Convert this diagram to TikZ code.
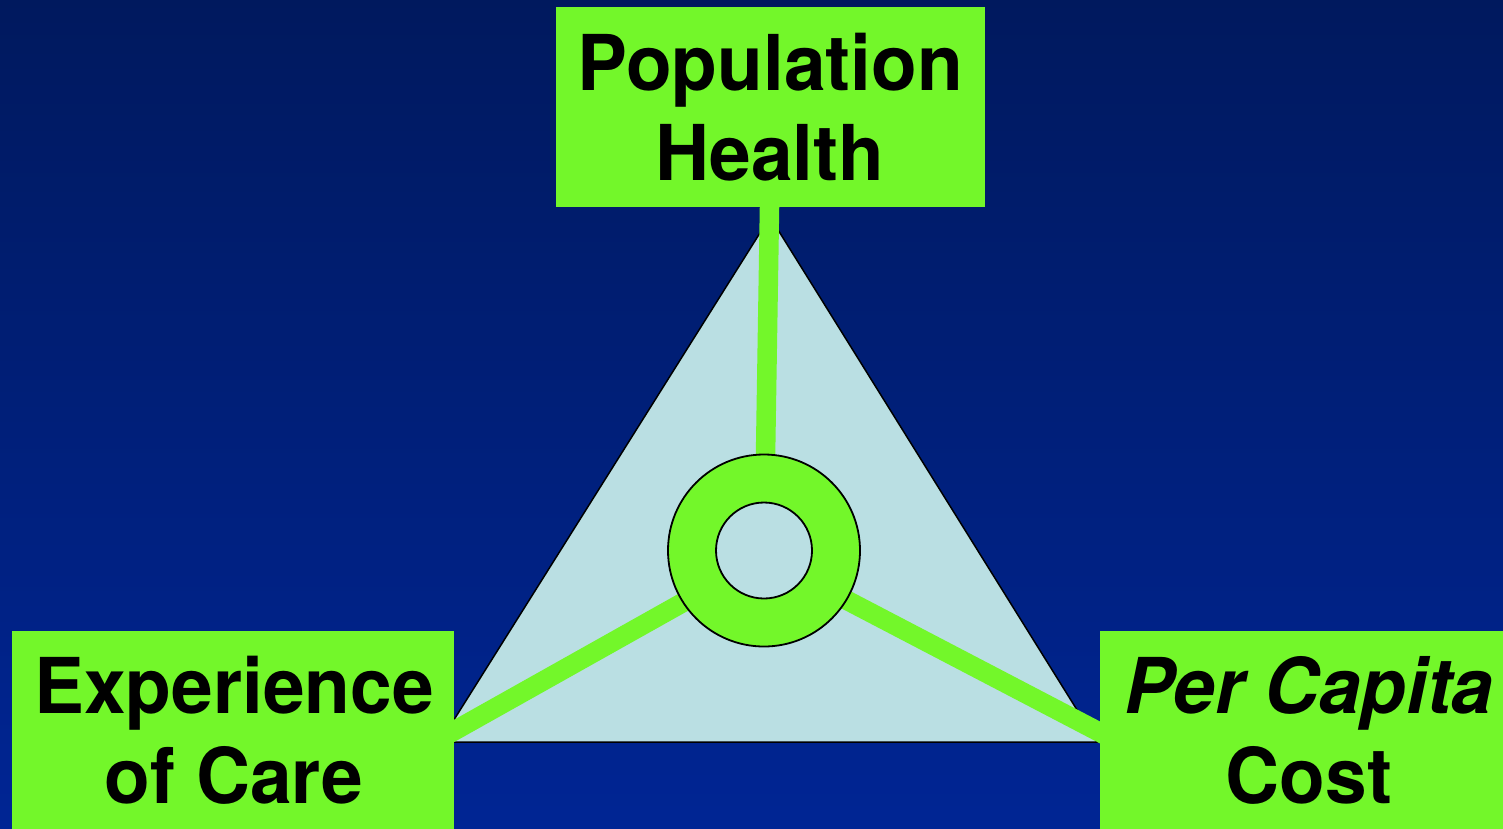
\documentclass[tikz,border=0pt]{standalone}
\usepackage{fontspec}
\setmainfont{TeX Gyre Heros}[FakeStretch=0.972]
\definecolor{bgtop}{RGB}{0,25,94}
\definecolor{bgbot}{RGB}{0,37,148}
\definecolor{lime}{RGB}{115,247,42}
\definecolor{tri}{RGB}{186,223,227}
\pgfdeclarelayer{bg}
\pgfsetlayers{bg,main}
\tikzset{
  goalbox/.style={rectangle, fill=lime, draw=none, inner sep=0pt},
  goaltext/.style={align=center, inner sep=0pt, text=black,
    font=\fontsize{77}{90}\selectfont\bfseries},
  spoke/.style={draw=lime, line width=19.5pt, line cap=butt},
}
\begin{document}
\begin{tikzpicture}[x=1pt,y=-1pt]
\useasboundingbox (0,0) rectangle (1503,828);
\clip (0,0) rectangle (1503,828);
\begin{pgfonlayer}{bg}
  \shade[top color=bgtop, bottom color=bgbot] (0,0) rectangle (1503,828);
  \draw[fill=tri, line width=1.5pt, line join=miter] (770,217) -- (440,742) -- (1097,742) -- cycle;
\end{pgfonlayer}
% hub ring
\node[circle, fill=lime, draw=black, line width=1.8pt, minimum size=192pt, inner sep=0pt] (ring) at (764,550.5) {};
\node[circle, fill=tri, draw=black, line width=1.8pt, minimum size=96pt, inner sep=0pt] (hole) at (ring.center) {};
% boxes
\node[goalbox, minimum width=429pt, minimum height=200pt] (top) at (770.5,107) {};
\node[goalbox, minimum width=442pt, minimum height=209pt] (left) at (233,735.5) {};
\node[goalbox, minimum width=420pt, minimum height=209pt] (right) at (1310,735.5) {};
\node[goaltext] (toptext) at (770,107.3) {Population\\Health};
\node[goaltext] (lefttext) at (234,730.5) {Experience\\of Care};
\node[goaltext] (righttext) at (1309,730.3) {\textit{Per Capita}\\Cost};
\coordinate (lend) at (440,738.8);
\coordinate (rend) at (1112,738.7);
\begin{pgfonlayer}{bg}
  \draw[spoke, shorten >=-8pt] (ring.center) -- ([xshift=-1pt]top.south);
  \draw[spoke] ([yshift=-6.5pt]ring.center) -- (lend);
  \draw[spoke] ([yshift=-6.5pt]ring.center) -- (rend);
\end{pgfonlayer}
\end{tikzpicture}
\end{document}
